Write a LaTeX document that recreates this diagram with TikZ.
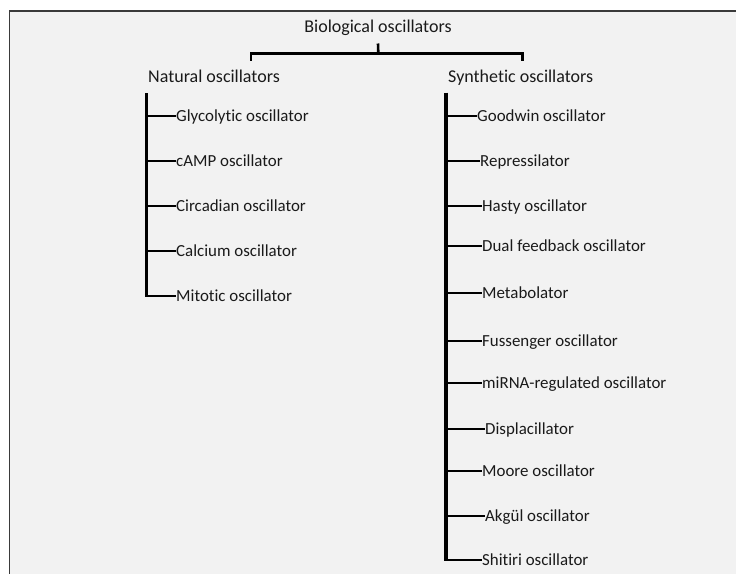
\documentclass[tikz,border=0pt]{standalone}
\usepackage{fontspec}
\setmainfont{Carlito}[Ligatures={NoCommon}]
\usetikzlibrary{positioning, calc}
\definecolor{PanelFill}{HTML}{F2F2F2}
\definecolor{PanelRule}{HTML}{3A3A3A}
\definecolor{TreeInk}{HTML}{000000}
\definecolor{LabelInk}{HTML}{1A1A1A}

\begin{document}
\begin{tikzpicture}[
  x=1pt, y=-1pt,
  lbl/.style={
    inner sep=0pt,
    text=LabelInk,
    text depth=0pt,
  },
  head/.style={lbl, font=\fontsize{18}{21}\selectfont, text height=11.6pt},
  leaf/.style={lbl, anchor=west, font=\fontsize{16.9}{20}\selectfont, text height=10.9pt},
  spine/.style={TreeInk, line width=3.3pt},
  twig/.style={TreeInk, line width=2.6pt},
]
  \useasboundingbox (0,0) rectangle (736,574);
  \fill[PanelFill] (9.7,11) rectangle (736,574);
  \draw[PanelRule, line width=1.3pt] (736,11) -- (9.7,11) -- (9.7,574);

  % root and bracket
  \node[head] (root) at (378,26.5) {Biological oscillators};
  \coordinate (stem) at (378.3,53.3);
  \coordinate (barL) at (251,53.3);
  \coordinate (barR) at (522.7,53.3);
  \coordinate (tickL) at (251,60.7);
  \coordinate (tickR) at (522.7,60.7);
  \draw[twig] ([yshift=-11pt]root.south) -- (stem);
  \draw[twig, line join=miter] (tickL) -- (barL) -- (barR) -- (tickR);

  \node[head, anchor=west] (nat) at (148,76.2) {Natural oscillators};
  \node[head, anchor=west] (syn) at (448,76.2) {Synthetic oscillators};
  \coordinate (natTop) at (146.7,93);
  \coordinate (synTop) at (446,92.7);

  % natural branch
  \foreach \y/\name [count=\i] in {
    116/Glycolytic oscillator,
    161/cAMP oscillator,
    206/Circadian oscillator,
    251/Calcium oscillator,
    296/Mitotic oscillator}
    \node[leaf] (n\i) at (176,\y) {\name};
  \foreach \i in {1,...,5}
    \draw[twig] (natTop |- n\i.west) -- (n\i.west);
  \draw[spine, shorten >=-1.3pt] (natTop) -- (natTop |- n5.west);

  % synthetic branch
  \foreach \y/\x/\name [count=\i] in {
    116/477/Goodwin oscillator,
    161/480/Repressilator,
    206/482/Hasty oscillator,
    246/482/Dual feedback oscillator,
    293/482/Metabolator,
    341/482/Fussenger oscillator,
    383/482/miRNA-regulated oscillator,
    429/485/Displacillator,
    471/482/Moore oscillator,
    516/485/Akgül oscillator,
    560/482/Shitiri oscillator}
    \node[leaf] (s\i) at (\x,\y) {\name};
  \foreach \i in {1,...,11}
    \draw[twig] (synTop |- s\i.west) -- (s\i.west);
  \draw[spine, shorten >=-1.3pt] (synTop) -- (synTop |- s11.west);
\end{tikzpicture}
\end{document}
